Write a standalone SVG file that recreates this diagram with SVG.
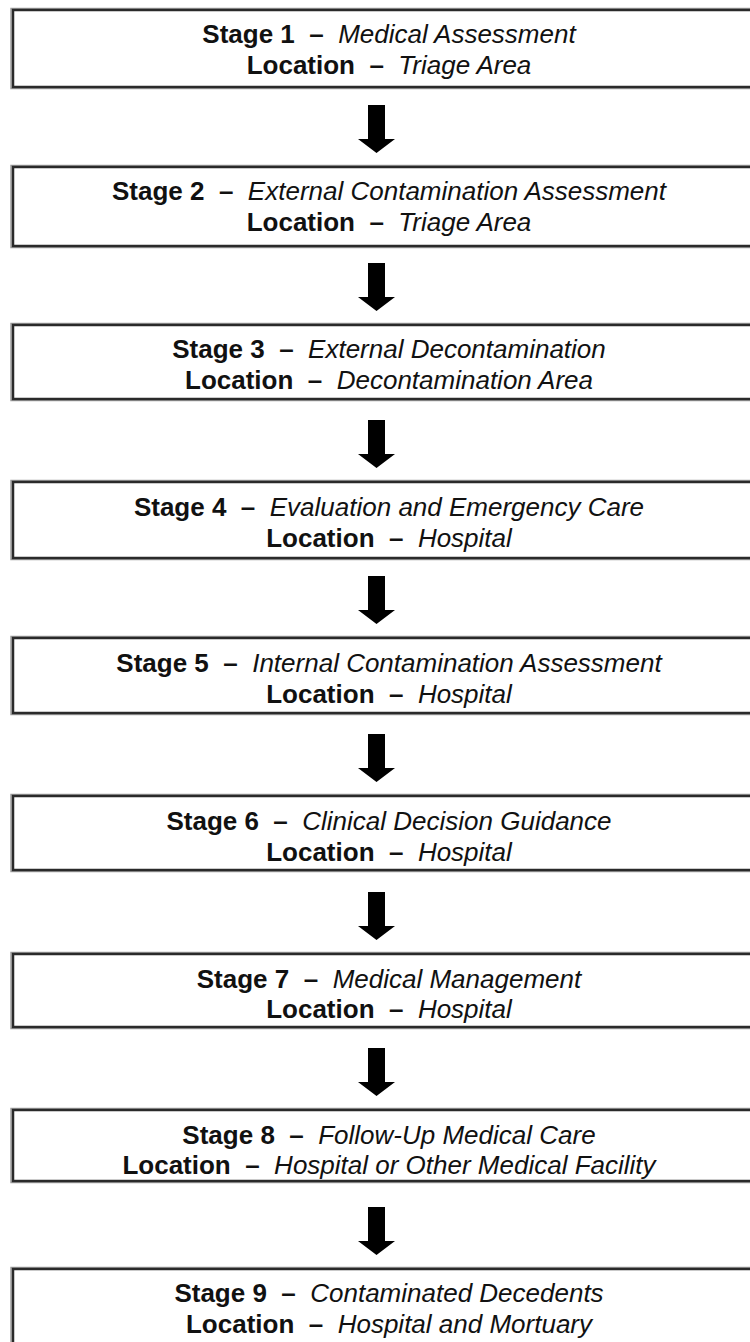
<svg xmlns="http://www.w3.org/2000/svg" width="750" height="1342" viewBox="0 0 750 1342">
<style>
.box{fill:#fff;stroke:#2a2a2a;stroke-width:2.5}
.shade{fill:none;stroke:#a0a0a0;stroke-width:1.5}
text{font-family:"Liberation Sans",Arial,sans-serif;font-size:26px;fill:#111;text-anchor:middle}
.b{font-weight:bold;font-style:normal}
.i{font-style:italic;font-weight:normal}
.arrow{fill:#000}
</style>
<defs>
<polygon id="arr" class="arrow" points="368,0 385,0 385,34 395,34 376.5,48 358,34 368,34"/>
</defs>
<rect width="750" height="1342" fill="#fff"/>
<g id="connectors">
<use href="#arr" y="105"/>
<use href="#arr" y="263"/>
<use href="#arr" y="420"/>
<use href="#arr" y="576"/>
<use href="#arr" y="734"/>
<use href="#arr" y="892"/>
<use href="#arr" y="1048"/>
<use href="#arr" y="1207"/>
</g>
<g id="stage1">
<rect class="shade" x="11" y="8.5" width="770" height="80"/>
<rect class="box" x="13" y="10" width="770" height="77"/>
<text x="389" y="43" xml:space="preserve"><tspan class="b">Stage 1  –  </tspan><tspan class="i">Medical Assessment</tspan></text>
<text x="389" y="74" xml:space="preserve"><tspan class="b">Location  –  </tspan><tspan class="i">Triage Area</tspan></text>
</g>
<g id="stage2">
<rect class="shade" x="11" y="165.5" width="770" height="82"/>
<rect class="box" x="13" y="167" width="770" height="79"/>
<text x="389" y="200" xml:space="preserve"><tspan class="b">Stage 2  –  </tspan><tspan class="i">External Contamination Assessment</tspan></text>
<text x="389" y="231" xml:space="preserve"><tspan class="b">Location  –  </tspan><tspan class="i">Triage Area</tspan></text>
</g>
<g id="stage3">
<rect class="shade" x="11" y="323.5" width="770" height="77"/>
<rect class="box" x="13" y="325" width="770" height="74"/>
<text x="389" y="358" xml:space="preserve"><tspan class="b">Stage 3  –  </tspan><tspan class="i">External Decontamination</tspan></text>
<text x="389" y="389" xml:space="preserve"><tspan class="b">Location  –  </tspan><tspan class="i">Decontamination Area</tspan></text>
</g>
<g id="stage4">
<rect class="shade" x="11" y="480.5" width="770" height="79"/>
<rect class="box" x="13" y="482" width="770" height="76"/>
<text x="389" y="516" xml:space="preserve"><tspan class="b">Stage 4  –  </tspan><tspan class="i">Evaluation and Emergency Care</tspan></text>
<text x="389" y="547" xml:space="preserve"><tspan class="b">Location  –  </tspan><tspan class="i">Hospital</tspan></text>
</g>
<g id="stage5">
<rect class="shade" x="11" y="636.5" width="770" height="78"/>
<rect class="box" x="13" y="638" width="770" height="75"/>
<text x="389" y="672" xml:space="preserve"><tspan class="b">Stage 5  –  </tspan><tspan class="i">Internal Contamination Assessment</tspan></text>
<text x="389" y="703" xml:space="preserve"><tspan class="b">Location  –  </tspan><tspan class="i">Hospital</tspan></text>
</g>
<g id="stage6">
<rect class="shade" x="11" y="794.5" width="770" height="77"/>
<rect class="box" x="13" y="796" width="770" height="74"/>
<text x="389" y="830" xml:space="preserve"><tspan class="b">Stage 6  –  </tspan><tspan class="i">Clinical Decision Guidance</tspan></text>
<text x="389" y="861" xml:space="preserve"><tspan class="b">Location  –  </tspan><tspan class="i">Hospital</tspan></text>
</g>
<g id="stage7">
<rect class="shade" x="11" y="952.5" width="770" height="76"/>
<rect class="box" x="13" y="954" width="770" height="73"/>
<text x="389" y="988" xml:space="preserve"><tspan class="b">Stage 7  –  </tspan><tspan class="i">Medical Management</tspan></text>
<text x="389" y="1018" xml:space="preserve"><tspan class="b">Location  –  </tspan><tspan class="i">Hospital</tspan></text>
</g>
<g id="stage8">
<rect class="shade" x="11" y="1108.5" width="770" height="74"/>
<rect class="box" x="13" y="1110" width="770" height="71"/>
<text x="389" y="1144" xml:space="preserve"><tspan class="b">Stage 8  –  </tspan><tspan class="i">Follow-Up Medical Care</tspan></text>
<text x="389" y="1174" xml:space="preserve"><tspan class="b">Location  –  </tspan><tspan class="i">Hospital or Other Medical Facility</tspan></text>
</g>
<g id="stage9">
<rect class="shade" x="11" y="1267.5" width="770" height="100"/>
<rect class="box" x="13" y="1269" width="770" height="100"/>
<text x="389" y="1302" xml:space="preserve"><tspan class="b">Stage 9  –  </tspan><tspan class="i">Contaminated Decedents</tspan></text>
<text x="389" y="1333" xml:space="preserve"><tspan class="b">Location  –  </tspan><tspan class="i">Hospital and Mortuary</tspan></text>
</g>
</svg>
